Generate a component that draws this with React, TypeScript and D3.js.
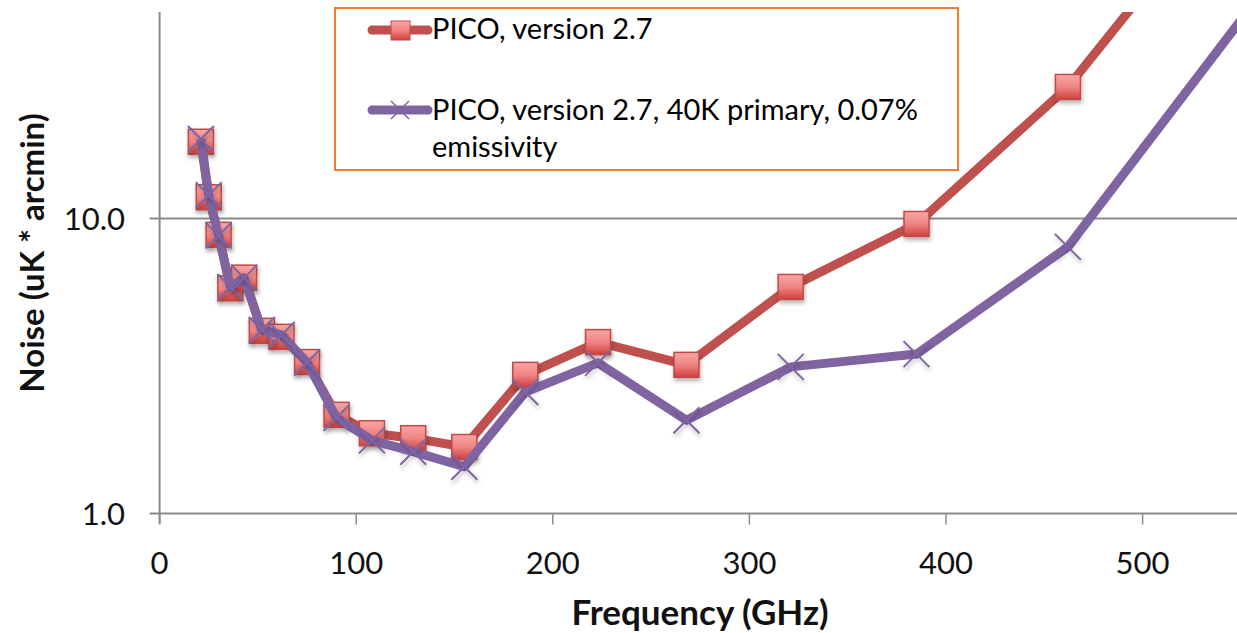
import React from 'react';
import * as d3 from 'd3';

// Frequencies (GHz) of the PICO bands
const freqs = [21, 25, 30, 36, 43, 52, 62, 75, 90, 108, 129, 155, 186, 223, 268, 321, 385, 462, 555];
// Noise (uK * arcmin)
const picoV27 = [18.2, 11.8, 8.8, 5.8, 6.3, 4.16, 3.97, 3.26, 2.16, 1.87, 1.8, 1.68, 2.95, 3.81, 3.19, 5.86, 9.58, 27.9, 165];
const pico40K = [18.6, 12.0, 8.75, 5.86, 6.29, 4.19, 4.03, 3.25, 2.11, 1.77, 1.62, 1.44, 2.58, 3.24, 2.07, 3.14, 3.47, 8.01, 52];
const xTicks = [0, 100, 200, 300, 400, 500];
const yTicks = [1, 10];
const seriesNames = ['PICO, version 2.7', 'PICO, version 2.7, 40K primary, 0.07%'];

const W = 1237;
const H = 633;
const FONT = "Lato, 'Open Sans', sans-serif";
const RED = '#C0504D';
const PURPLE = '#8064A2';
const AXIS = '#8a8a8a';

export default function App() {
  const left = 159.6;
  const top = 12;
  const bottom = 513.5;
  const x = d3.scaleLinear().domain([0, 550]).range([left, left + 550 * 1.966]);
  const y = d3.scaleLog().domain([1, 50.1]).range([bottom, top]);

  const redPts = freqs.map((f, i) => [f, picoV27[i]] as [number, number]);
  const purPts = freqs.map((f, i) => [f, pico40K[i]] as [number, number]);
  const line = d3.line<[number, number]>().x(d => x(d[0])).y(d => y(d[1]));
  const inside = (d: [number, number]) => x(d[0]) < W + 20 && y(d[1]) > top;

  const sq = 25;
  const xs = 13;

  return (
    <svg width={W} height={H} style={{ position: 'absolute', left: 0, top: 0, background: '#fff' }} fontFamily={FONT}>
      <defs>
        <linearGradient id="sqGrad" x1="0" y1="0" x2="0" y2="1">
          <stop offset="0" stopColor="#FAA6A5" />
          <stop offset="0.5" stopColor="#EE8482" />
          <stop offset="1" stopColor="#D13F3C" />
        </linearGradient>
        <filter id="shadow" x="-50%" y="-50%" width="200%" height="200%">
          <feDropShadow dx="1" dy="3" stdDeviation="2" floodColor="#000" floodOpacity="0.3" />
        </filter>
        <clipPath id="plotClip">
          <rect x={left} y={top} width={W - left + 10} height={bottom - top} />
        </clipPath>
      </defs>

      {/* gridline + axes */}
      {yTicks.map(t => (
        <g key={t}>
          <line x1={left - 10} x2={W} y1={y(t)} y2={y(t)} stroke={AXIS} strokeWidth={2} />
          <text x={125} y={y(t)} dy="0.36em" textAnchor="end" fontSize={31} fill="#111">{t.toFixed(1)}</text>
        </g>
      ))}
      <line x1={left} x2={left} y1={top} y2={bottom + 10} stroke={AXIS} strokeWidth={2} />
      {xTicks.map(t => (
        <g key={t}>
          <line x1={x(t)} x2={x(t)} y1={bottom} y2={bottom + 11} stroke={AXIS} strokeWidth={1.5} />
          <text x={x(t)} y={574} textAnchor="middle" fontSize={31} fill="#111">{t}</text>
        </g>
      ))}

      <text x={700} y={625} textAnchor="middle" fontSize={35} fontWeight="bold" fill="#111">Frequency (GHz)</text>
      <text transform={`translate(44,253) rotate(-90)`} textAnchor="middle" fontSize={33} fontWeight="bold" fill="#111">Noise (uK * arcmin)</text>

      {/* series */}
      <g clipPath="url(#plotClip)">
        <path d={line(redPts) || ''} fill="none" stroke={RED} strokeWidth={9} strokeLinejoin="round" />
        {redPts.filter(inside).map((d, i) => (
          <rect key={i} x={x(d[0]) - sq / 2} y={y(d[1]) - sq / 2} width={sq} height={sq}
            fill="url(#sqGrad)" stroke="#BE4B48" strokeWidth={1.5} filter="url(#shadow)" />
        ))}
        <path d={line(purPts) || ''} fill="none" stroke={PURPLE} strokeWidth={9} strokeLinejoin="round" />
        {purPts.filter(inside).map((d, i) => (
          <path key={i} d={`M${-xs},${-xs}L${xs},${xs}M${-xs},${xs}L${xs},${-xs}`}
            transform={`translate(${x(d[0])},${y(d[1])})`} stroke={PURPLE} strokeWidth={2} filter="url(#shadow)" />
        ))}
      </g>

      {/* legend */}
      <rect x={335} y={8} width={623} height={162} fill="#fff" stroke="#F77A26" strokeWidth={2} />
      <line x1={372} x2={428} y1={30} y2={30} stroke={RED} strokeWidth={9} strokeLinecap="round" />
      <rect x={391} y={21} width={19} height={19} fill="url(#sqGrad)" stroke="#BE4B48" strokeWidth={1} />
      <text x={432} y={39} fontSize={29} fill="#000">{seriesNames[0]}</text>
      <line x1={372} x2={428} y1={110} y2={110} stroke={PURPLE} strokeWidth={9} strokeLinecap="round" />
      <path d="M391,101L409,119M391,119L409,101" stroke={PURPLE} strokeWidth={1.5} />
      <text x={432} y={120} fontSize={29} fill="#000">{seriesNames[1]}</text>
      <text x={432} y={157} fontSize={29} fill="#000">emissivity</text>
    </svg>
  );
}
